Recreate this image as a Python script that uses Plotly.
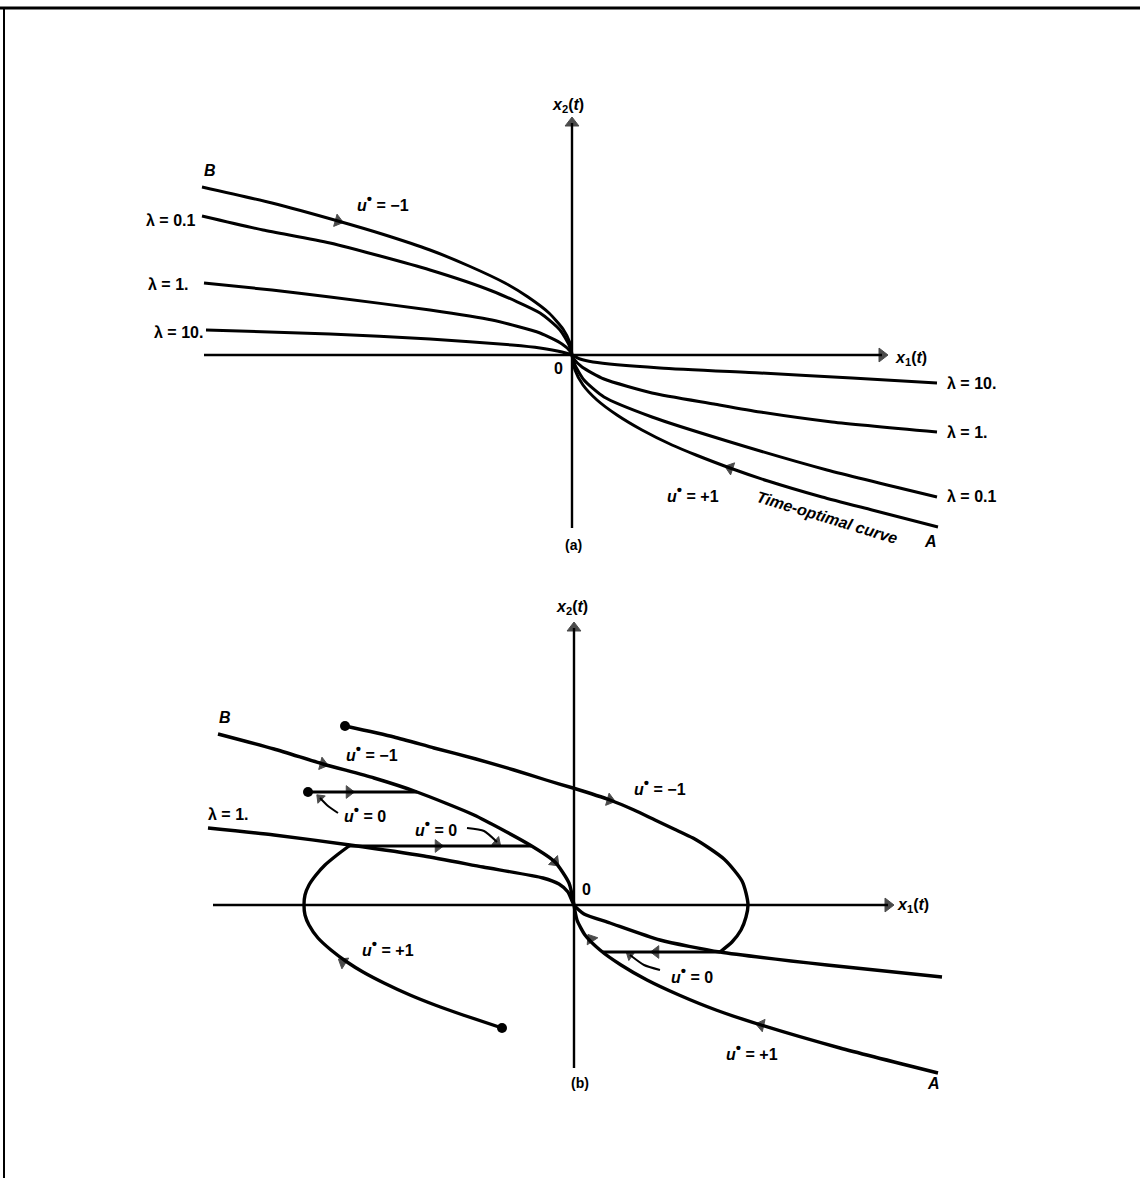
import plotly.graph_objects as go

W, H = 1140, 1178
OA = (572, 355)   # page position of panel (a) origin
OB = (574, 905)   # page position of panel (b) origin

# ---------------- Panel (a) data (x1, x2) ----------------
a_B_x = [-370, -300, -234, -190, -142, -103, -67, -44, -23, -9, -2, 0]
a_B_y = [168, 152, 134, 121, 105, 89, 72, 58, 42, 26, 12, 0]
a_A_x = [0, 3, 11, 25, 45, 70, 100, 124, 158, 196, 250, 300, 366]
a_A_y = [0, -15, -30, -45, -60, -75, -90, -100, -113, -126, -142, -155, -172]
a_l01_x = [-370, -309, -242, -142, -80, -32, -12, -3, 0, 3, 12, 32, 80, 155, 255, 365]
a_l01_y = [139, 125, 112, 85, 64, 42, 25, 10, 0, -10, -25, -42, -62, -86, -115, -142]
a_l1_x = [-368, -300, -242, -142, -80, -32, -10, -2, 0, 2, 10, 32, 80, 142, 188, 260, 365]
a_l1_y = [72, 65, 58, 45, 35, 22, 11, 4, 0, -4, -12, -24, -38, -49, -57, -67, -77]
a_l10_x = [-366, -242, -142, -60, -32, -10, 0, 8, 21, 88, 188, 280, 365]
a_l10_y = [25, 21, 16, 10, 7, 3, 0, -4, -7, -13, -18, -23, -28]
a_arrow_tail_x = [-252, 176]
a_arrow_tail_y = [139, -119]
a_arrow_head_x = [-234, 158]
a_arrow_head_y = [134, -113]
a_axis_x = [-368, 310]
a_axis_y = [-173, 232]

# ---------------- Panel (b) data ----------------
b_B_x = [-356, -300, -251, -200, -157, -100, -44, -19, -5, 0]
b_B_y = [171, 156, 141, 127, 113, 90, 60, 43, 22, 0]
b_A_x = [0, 3, 11, 26, 47, 73, 105, 142, 187, 266, 364]
b_A_y = [0, -15, -30, -45, -60, -75, -90, -105, -120, -143, -168]
b_big_x = [-229, -180, -140, -98, -60, -28, -1, 36, 60, 81, 100, 119, 135, 150, 160, 168, 172, 174, 172, 167, 158, 146]
b_big_y = [179, 168, 157, 146, 135, 125, 117, 105, 95, 85, 76, 67, 57, 46, 35, 24, 12, 0, -12, -25, -37, -47]
b_lam_x = [-366, -300, -224, -150, -91, -31, -15, -6, 0, 10, 36, 86, 146, 253, 368]
b_lam_y = [77, 70, 60, 49, 38, 27, 21, 13, 0, -9, -18, -35, -47, -60, -72]
b_left_x = [-72, -111, -139, -164, -190, -211, -227, -243, -256, -265, -269, -270, -269, -265, -258, -249, -237, -225]
b_left_y = [-123, -110, -100, -90, -78, -67, -57, -45, -33, -20, -10, 0, 10, 20, 30, 40, 50, 59]
b_u0_up_x = [-266, -157]
b_u0_up_y = [113, 113]
b_u0_mid_x = [-227, -43]
b_u0_mid_y = [59, 59]
b_u0_low_x = [146, 29]
b_u0_low_y = [-47, -47]
b_dots_x = [-229, -266, -72]
b_dots_y = [179, 113, -123]
b_arrow_tail_x = [-270, -25, 22, 205, 21, -220, -243, -153, 98]
b_arrow_tail_y = [146, 49, 109, -124, -40, -64, 113, 59, -47]
b_arrow_head_x = [-251, -19, 36, 187, 17, -231, -225, -136, 82]
b_arrow_head_y = [141, 43, 105, -120, -34, -57, 113, 59, -47]
b_ptr1_x = [-236, -246, -254]
b_ptr1_y = [92, 99, 107]
b_ptr2_x = [-107, -90, -77]
b_ptr2_y = [77, 74, 63]
b_ptr3_x = [86, 70, 56]
b_ptr3_y = [-65, -60, -50]
b_axis_x = [-361, 314]
b_axis_y = [-163, 277]

fig = go.Figure()


def curve(x, y, ax, width=3.0, shape="spline"):
    fig.add_trace(go.Scatter(x=x, y=y, mode="lines", xaxis=ax[0], yaxis=ax[1],
                             line=dict(color="black", width=width, shape=shape, smoothing=0.6),
                             hoverinfo="skip", showlegend=False))


def arrows(tx, ty, hx, hy, ax, size=11):
    for i in range(len(hx)):
        fig.add_trace(go.Scatter(x=[tx[i], hx[i]], y=[ty[i], hy[i]], mode="markers",
                                 xaxis=ax[0], yaxis=ax[1],
                                 marker=dict(symbol="triangle-up", size=[0, size], color="black",
                                             angleref="previous", line=dict(width=1, color="black")),
                                 hoverinfo="skip", showlegend=False))


def axes(xs, ys, ax, width=2.4):
    fig.add_trace(go.Scatter(x=[xs[0], xs[1]], y=[0, 0], mode="lines+markers", xaxis=ax[0], yaxis=ax[1],
                             line=dict(color="black", width=width),
                             marker=dict(symbol="triangle-up", size=[0, 12], color="black",
                                         angleref="previous", line=dict(width=1, color="black")),
                             hoverinfo="skip", showlegend=False))
    fig.add_trace(go.Scatter(x=[0, 0], y=[ys[0], ys[1]], mode="lines+markers", xaxis=ax[0], yaxis=ax[1],
                             line=dict(color="black", width=width),
                             marker=dict(symbol="triangle-up", size=[0, 12], color="black",
                                         angleref="previous", line=dict(width=1, color="black")),
                             hoverinfo="skip", showlegend=False))


A = ("x", "y")
B = ("x2", "y2")

# panel (a)
axes(a_axis_x, a_axis_y, A)
for xs, ys in [(a_B_x, a_B_y), (a_A_x, a_A_y), (a_l01_x, a_l01_y), (a_l1_x, a_l1_y), (a_l10_x, a_l10_y)]:
    curve(xs, ys, A, width=3.0)
arrows(a_arrow_tail_x, a_arrow_tail_y, a_arrow_head_x, a_arrow_head_y, A)

# panel (b)
axes(b_axis_x, b_axis_y, B)
for xs, ys in [(b_B_x, b_B_y), (b_A_x, b_A_y), (b_big_x, b_big_y), (b_lam_x, b_lam_y), (b_left_x, b_left_y)]:
    curve(xs, ys, B, width=3.4)
for xs, ys in [(b_u0_up_x, b_u0_up_y), (b_u0_mid_x, b_u0_mid_y), (b_u0_low_x, b_u0_low_y)]:
    curve(xs, ys, B, width=3.0, shape="linear")
for xs, ys in [(b_ptr1_x, b_ptr1_y), (b_ptr2_x, b_ptr2_y), (b_ptr3_x, b_ptr3_y)]:
    curve(xs, ys, B, width=2.0)
fig.add_trace(go.Scatter(x=b_dots_x, y=b_dots_y, mode="markers", xaxis="x2", yaxis="y2",
                         marker=dict(symbol="circle", size=10, color="black"),
                         hoverinfo="skip", showlegend=False))
arrows(b_arrow_tail_x, b_arrow_tail_y, b_arrow_head_x, b_arrow_head_y, B)
arrows([b_ptr1_x[1], b_ptr2_x[1], b_ptr3_x[1]], [b_ptr1_y[1], b_ptr2_y[1], b_ptr3_y[1]],
       [b_ptr1_x[2], b_ptr2_x[2], b_ptr3_x[2]], [b_ptr1_y[2], b_ptr2_y[2], b_ptr3_y[2]], B, size=9)

# ---------------- labels ----------------
FONT = "Liberation Sans"
US = "<b><i>u</i></b><sup><span style='font-size:15px'><b>•</b></span></sup><b>"
ann = []


def lab(text, px, py, size=16, angle=0, xanchor="center"):
    ann.append(dict(text=text, x=px / W, y=1 - py / H, xref="paper", yref="paper",
                    showarrow=False, xanchor=xanchor, yanchor="middle", textangle=angle,
                    font=dict(family=FONT, size=size, color="black")))


X2 = "<b><i>x</i><sub>2</sub>(<i>t</i>)</b>"
X1 = "<b><i>x</i><sub>1</sub>(<i>t</i>)</b>"
# panel (a)
lab(X2, 568, 106)
lab(X1, 893, 358, xanchor="left")
lab("<b>0</b>", 558, 368)
lab("<b><i>B</i></b>", 210, 170)
lab(US + " = −1</b>", 383, 202)
lab("<b>λ = 0.1</b>", 197, 221, xanchor="right")
lab("<b>λ = 1.</b>", 190, 284, xanchor="right")
lab("<b>λ = 10.</b>", 205, 332, xanchor="right")
lab("<b>λ = 10.</b>", 945, 384, xanchor="left")
lab("<b>λ = 1.</b>", 945, 432, xanchor="left")
lab("<b>λ = 0.1</b>", 945, 497, xanchor="left")
lab(US + " = +1</b>", 693, 493)
lab("<b><i>Time-optimal curve</i></b>", 827, 517, angle=17)
lab("<b><i>A</i></b>", 930, 541)
lab("<b>(a)</b>", 573, 545, size=14)
# panel (b)
lab(X2, 572, 607)
lab(X1, 895, 905, xanchor="left")
lab("<b>0</b>", 586, 889)
lab("<b><i>B</i></b>", 225, 717)
lab(US + " = −1</b>", 372, 752)
lab(US + " = −1</b>", 660, 786)
lab("<b>λ = 1.</b>", 228, 814)
lab(US + " = 0</b>", 365, 813)
lab(US + " = 0</b>", 436, 827)
lab(US + " = +1</b>", 388, 947)
lab(US + " = 0</b>", 692, 974)
lab(US + " = +1</b>", 752, 1051)
lab("<b><i>A</i></b>", 933, 1083)
lab("<b>(b)</b>", 580, 1083, size=14)

shapes = [
    dict(type="line", xref="paper", yref="paper", x0=0, x1=1, y0=1 - 8 / H, y1=1 - 8 / H,
         line=dict(color="black", width=3)),
    dict(type="line", xref="paper", yref="paper", x0=4 / W, x1=4 / W, y0=0, y1=1 - 8 / H,
         line=dict(color="black", width=2)),
]

ax_common = dict(visible=False, showgrid=False, zeroline=False, fixedrange=True)
fig.update_layout(
    width=W, height=H, margin=dict(l=0, r=0, t=0, b=0),
    paper_bgcolor="white", plot_bgcolor="rgba(0,0,0,0)",
    xaxis=dict(range=[-OA[0], W - OA[0]], domain=[0, 1], anchor="y", **ax_common),
    yaxis=dict(range=[OA[1] - H, OA[1]], domain=[0, 1], anchor="x", **ax_common),
    xaxis2=dict(range=[-OB[0], W - OB[0]], domain=[0, 1], anchor="y2", overlaying="x", **ax_common),
    yaxis2=dict(range=[OB[1] - H, OB[1]], domain=[0, 1], anchor="x2", overlaying="y", **ax_common),
    annotations=ann, shapes=shapes, showlegend=False,
)

fig.write_html("out.html", config={"displayModeBar": False},
               post_script="document.body.style.margin='0px';document.body.style.overflow='hidden';")
